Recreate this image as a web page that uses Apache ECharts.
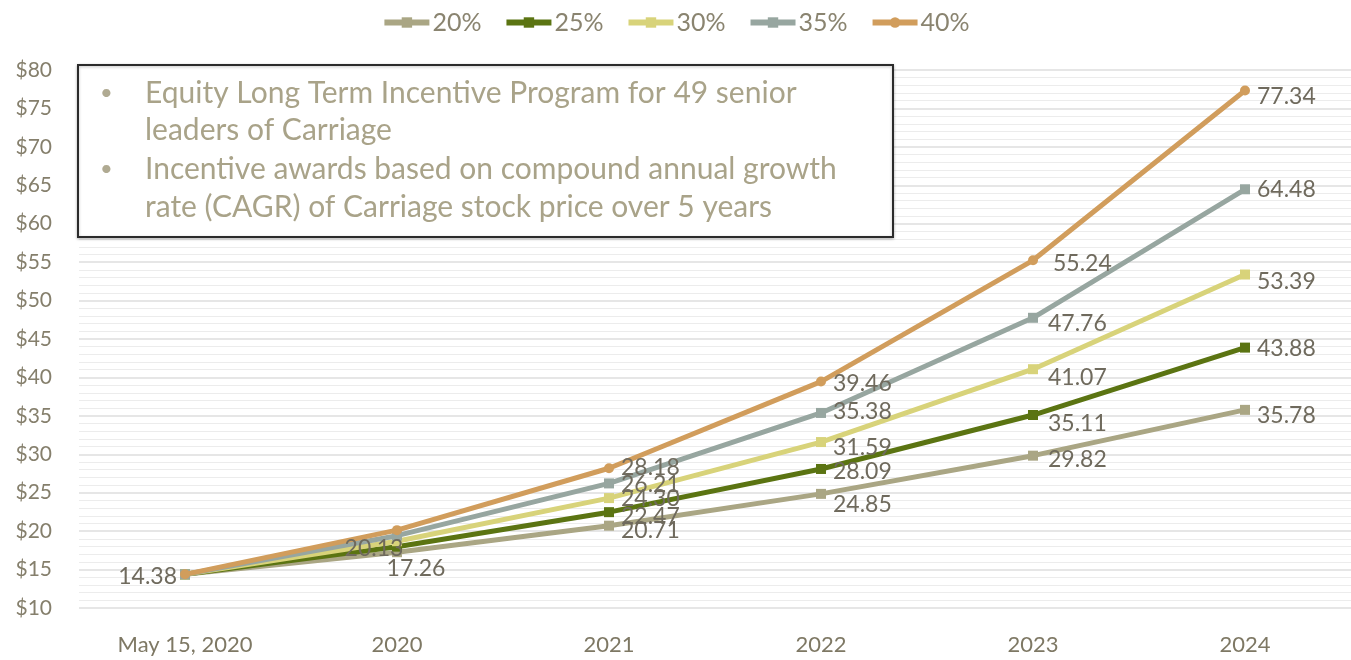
<!DOCTYPE html>
<html><head><meta charset="utf-8">
<script src="https://cdn.jsdelivr.net/npm/echarts@6/dist/echarts.min.js"></script>
<style>html,body{margin:0;padding:0;background:#fff}#c{width:1351px;height:660px}</style>
</head><body><div id="c"></div>
<script>
const categories = ['May 15, 2020', '2020', '2021', '2022', '2023', '2024'];
const seriesNames = ['20%', '25%', '30%', '35%', '40%'];
const s20 = [14.38, 17.26, 20.71, 24.85, 29.82, 35.78];
const s25 = [14.38, 17.98, 22.47, 28.09, 35.11, 43.88];
const s30 = [14.38, 18.69, 24.30, 31.59, 41.07, 53.39];
const s35 = [14.38, 19.41, 26.21, 35.38, 47.76, 64.48];
const s40 = [14.38, 20.13, 28.18, 39.46, 55.24, 77.34];
const yTicks = { min: 10, max: 80, interval: 5 };
const noteLines = [
  ['•', 'Equity Long Term Incentive Program for 49 senior'],
  ['', 'leaders of Carriage'],
  ['•', 'Incentive awards based on compound annual growth'],
  ['', 'rate (CAGR) of Carriage stock price over 5 years']
];

const colors = ['#aaa684', '#5b7412', '#d8d37a', '#97a6a0', '#d19d5c'];
const symbols = ['rect', 'rect', 'rect', 'rect', 'circle'];
const allData = [s20, s25, s30, s35, s40];

// per-point label placement (style only): null = hidden
// [position, dx, dy]
const labelPlace = [
  [['left', 4, 2], ['inside', 19, 16], ['right', 0, 5], ['right', 0, 11], ['right', 3, 4], ['right', 0, 6]],
  [null, null, ['right', 0, 4], ['right', 0, 3], ['right', 3, 9], ['right', 0, 1]],
  [null, null, ['right', 0, 0], ['right', 0, 6], ['right', 3, 8], ['right', 0, 7]],
  [null, null, ['right', 0, 1], ['right', 0, -1], ['right', 3, 6], ['right', 0, 0]],
  [null, ['inside', -23, 18], ['right', 0, -1], ['right', 0, 2], ['right', 8, 3], ['right', 0, 6]]
];

const series = allData.map((arr, si) => ({
  name: seriesNames[si],
  type: 'line',
  symbol: symbols[si],
  symbolSize: 10,
  color: colors[si],
  lineStyle: { width: 5, color: colors[si] },
  itemStyle: { color: colors[si] },
  z: 2 + si,
  data: arr.map((v, i) => {
    const p = labelPlace[si][i];
    return {
      value: v,
      label: p ? {
        show: true, position: p[0], distance: 7, offset: [p[1], p[2]],
        formatter: (d) => d.value.toFixed(2),
        color: '#6f6a5d', fontSize: 23, fontFamily: 'Lato'
      } : { show: false }
    };
  })
}));

const noteGraphics = [];
noteGraphics.push({
  type: 'rect', left: 77, top: 64, z: 100,
  shape: { width: 815, height: 172 },
  style: { fill: '#ffffff', stroke: '#2b2b2b', lineWidth: 2, shadowBlur: 3, shadowColor: 'rgba(0,0,0,0.25)', shadowOffsetY: 1 }
});
const lineY = [93, 130, 169, 207];
noteLines.forEach((ln, i) => {
  if (ln[0]) noteGraphics.push({
    type: 'text', z: 101, style: { text: ln[0], x: 100, y: lineY[i], verticalAlign: 'middle', fill: '#b0aa92', fontSize: 22, fontFamily: 'Lato' }
  });
  noteGraphics.push({
    type: 'text', z: 101, style: { text: ln[1], x: 145, y: lineY[i], verticalAlign: 'middle', fill: '#a9a389', fontSize: 30, fontFamily: 'Lato' }
  });
});

const chart = echarts.init(document.getElementById('c'), null, { renderer: 'canvas' });
chart.setOption({
  animation: false,
  backgroundColor: '#ffffff',
  textStyle: { fontFamily: 'Lato' },
  legend: {
    top: 5, left: 'center', itemWidth: 45, itemHeight: 13, itemGap: 22,
    lineStyle: { width: 6 },
    textStyle: { color: '#8a8470', fontSize: 25, fontFamily: 'Lato', padding: [0, 0, 0, -2] },
    data: seriesNames
  },
  grid: { left: 79, right: -3, top: 70, bottom: 52, containLabel: false },
  xAxis: {
    type: 'category', data: categories, boundaryGap: true,
    axisLine: { show: false }, axisTick: { show: false },
    axisLabel: { color: '#7e7864', fontSize: 22, margin: 26, fontFamily: 'Lato' }
  },
  yAxis: {
    type: 'value', min: yTicks.min, max: yTicks.max, interval: yTicks.interval,
    axisLine: { show: false }, axisTick: { show: false },
    axisLabel: { color: '#857f6c', fontSize: 21, margin: 27, formatter: '${value}', fontFamily: 'Lato' },
    splitLine: { show: true, lineStyle: { color: '#dedede', width: 1.5 } },
    minorTick: { show: false, splitNumber: 5 },
    minorSplitLine: { show: true, lineStyle: { color: '#ececec', width: 1 } }
  },
  series: series,
  graphic: { elements: noteGraphics }
});
</script></body></html>
